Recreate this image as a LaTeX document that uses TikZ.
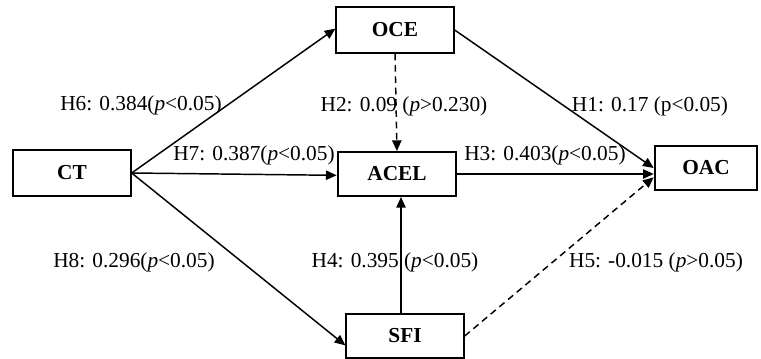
\documentclass[tikz,border=0pt]{standalone}
\usepackage{fontspec}
\setmainfont{Liberation Serif}
\usetikzlibrary{arrows.meta}
\begin{document}
\begin{tikzpicture}[x=0.75pt,y=-0.75pt,
  construct/.style={draw,line width=1.5pt,font=\fontsize{16}{19}\selectfont\bfseries,inner sep=0pt},
  link/.style={line width=1.1pt,-{Triangle[length=8pt,width=7pt]}},
  nslink/.style={link,dashed,dash pattern=on 5pt off 3.5pt},
  coef/.style={font=\fontsize{16}{19}\selectfont,inner sep=0pt}]
\useasboundingbox (0,0) rectangle (761,359);

% Constructs
\node[construct,minimum width=88pt,minimum height=34pt] (CT) at (72,173) {CT};
\node[construct,minimum width=88pt,minimum height=34pt] (OCE) at (395,30) {OCE};
\node[construct,minimum width=89pt,minimum height=33pt] (ACEL) at (397,174) {ACEL};
\node[construct,minimum width=77pt,minimum height=33pt] (OAC) at (706,168) {OAC};
\node[construct,minimum width=88pt,minimum height=33pt] (SFI) at (405,336) {SFI};

% Paths
\draw[link] (CT.east) -- ([yshift=1pt]OCE.west);
\draw[link] (CT.east) -- ([yshift=-1pt]ACEL.west);
\draw[link] (CT.east) -- ([yshift=-7pt]SFI.west);
\draw[nslink] (OCE.south) -- (ACEL.north);
\draw[link] (OCE.east) -- (OAC.west);
\draw[link] (ACEL.east) -- ([yshift=-4.5pt]OAC.west);
\draw[link] ([xshift=-3pt]SFI.north) -- ([xshift=-3pt]SFI.north |- ACEL.south);
\draw[nslink] (SFI.east) -- ([yshift=-7pt]OAC.west);

% Coefficients
\node[coef] (h6) at (141,105) {H6: 0.384(\textit{p}<0.05)};
\node[coef] (h7) at (254,155) {H7: 0.387(\textit{p}<0.05)};
\node[coef] (h2) at (404,106) {H2: 0.09 (\textit{p}>0.230)};
\node[coef] (h1) at (650,106) {H1: 0.17 (p<0.05)};
\node[coef] (h3) at (545,155) {H3: 0.403(\textit{p}<0.05)};
\node[coef] (h8) at (134,262) {H8: 0.296(\textit{p}<0.05)};
\node[coef] (h4) at (395,262) {H4: 0.395 (\textit{p}<0.05)};
\node[coef] (h5) at (656,262) {H5: -0.015 (\textit{p}>0.05)};
\end{tikzpicture}
\end{document}
